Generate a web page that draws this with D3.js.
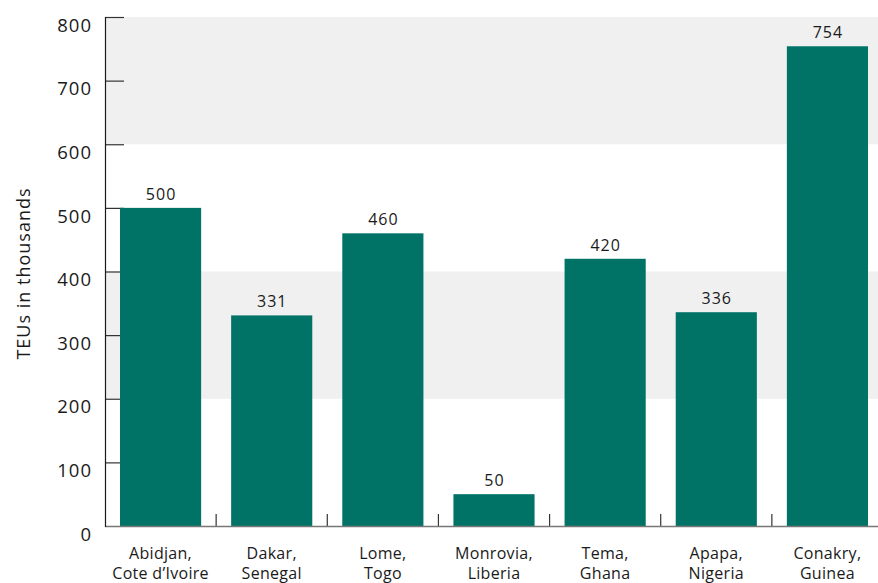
<!DOCTYPE html>
<html>
<head>
<meta charset="utf-8">
<script src="https://cdn.jsdelivr.net/npm/d3@7"></script>
<style>
  html, body { margin: 0; padding: 0; background: #fff; }
  svg { display: block; font-family: "Open Sans", "Noto Sans", sans-serif; }
</style>
</head>
<body>
<svg id="chart" width="878" height="583"></svg>
<script>
// Container throughput by port (TEUs, thousands)
const ports = [
  ["Abidjan,", "Cote d\u2019Ivoire"],
  ["Dakar,", "Senegal"],
  ["Lome,", "Togo"],
  ["Monrovia,", "Liberia"],
  ["Tema,", "Ghana"],
  ["Apapa,", "Nigeria"],
  ["Conakry,", "Guinea"]
];
const teus = [500, 331, 460, 50, 420, 336, 754];
const yTicks = [0, 100, 200, 300, 400, 500, 600, 700, 800];
const shadedBands = [[200, 400], [600, 800]];
const yTitle = "TEUs in thousands";

const svg = d3.select("#chart");
const plotLeft = 105, plotRight = 883, plotTop = 17, plotBottom = 526;

const x = d3.scaleBand()
  .domain(d3.range(ports.length))
  .range([plotLeft, plotRight])
  .paddingInner(0.27)
  .paddingOuter(0.135);

const y = d3.scaleLinear().domain([0, 800]).range([plotBottom, plotTop]);

// Alternating background bands
svg.append("g").selectAll("rect")
  .data(shadedBands)
  .join("rect")
  .attr("x", plotLeft)
  .attr("width", 878 - plotLeft)
  .attr("y", d => y(d[1]))
  .attr("height", d => y(d[0]) - y(d[1]))
  .attr("fill", "#eff0ef");

// Y axis: ticks point into the plot
const yAxis = d3.axisRight(y).tickValues(yTicks.filter(v => v > 0)).tickSize(19).tickFormat("");
const gy = svg.append("g").attr("transform", `translate(${plotLeft},0)`).call(yAxis);
gy.select(".domain").remove();
gy.selectAll(".tick line").attr("stroke", "#333").attr("stroke-width", 1.2);

// Y tick labels (set slightly below their ticks)
svg.append("g").selectAll("text")
  .data(yTicks)
  .join("text")
  .attr("x", 92)
  .attr("y", d => y(d) + 8)
  .attr("dy", "0.36em")
  .attr("text-anchor", "end")
  .attr("font-size", 18.5)
  .attr("letter-spacing", 1)
  .attr("fill", "#1a1a1a")
  .text(d => d);

// Category separators on the baseline
const sepAxis = d3.axisTop(x).tickSize(12).tickFormat("");
const gx = svg.append("g").attr("transform", `translate(0,${plotBottom})`).call(sepAxis);
gx.select(".domain").remove();
gx.selectAll(".tick").attr("transform", d => `translate(${x(d) + x.bandwidth() + x.step() * x.paddingInner() / 2},0)`);
gx.selectAll(".tick").filter(d => d === ports.length - 1).remove();
gx.selectAll(".tick line").attr("stroke", "#333").attr("stroke-width", 1.2);

// Bars
svg.append("g").selectAll("rect")
  .data(teus)
  .join("rect")
  .attr("x", (d, i) => x(i))
  .attr("width", x.bandwidth())
  .attr("y", d => y(d))
  .attr("height", d => y(0) - y(d))
  .attr("fill", "#017266");

// Value labels
svg.append("g").selectAll("text")
  .data(teus)
  .join("text")
  .attr("x", (d, i) => x(i) + x.bandwidth() / 2 + 0.5)
  .attr("y", d => y(d) - 8)
  .attr("text-anchor", "middle")
  .attr("font-size", 16)
  .attr("letter-spacing", 1)
  .attr("fill", "#1a1a1a")
  .text(d => d);

// Baseline and vertical axis line
svg.append("line")
  .attr("x1", plotLeft).attr("x2", 878)
  .attr("y1", plotBottom + 0.5).attr("y2", plotBottom + 0.5)
  .attr("stroke", "#777").attr("stroke-width", 1.3);
svg.append("line")
  .attr("x1", plotLeft + 0.5).attr("x2", plotLeft + 0.5)
  .attr("y1", plotTop).attr("y2", plotBottom + 1)
  .attr("stroke", "#1a1a1a").attr("stroke-width", 1.2);

// Category labels (two lines)
const cat = svg.append("g").selectAll("text")
  .data(ports)
  .join("text")
  .attr("text-anchor", "middle")
  .attr("font-size", 16)
  .attr("letter-spacing", 0.3)
  .attr("fill", "#1a1a1a");
cat.append("tspan").attr("y", 559).attr("x", (d, i) => x(i) + x.bandwidth() / 2).text(d => d[0]);
cat.append("tspan").attr("y", 579).attr("x", (d, i) => x(i) + x.bandwidth() / 2).text(d => d[1]);

// Y axis title
svg.append("text")
  .attr("transform", `translate(30,${273.5}) rotate(-90)`)
  .attr("text-anchor", "middle")
  .attr("font-size", 18)
  .attr("letter-spacing", 1)
  .attr("fill", "#1a1a1a")
  .text(yTitle);
</script>
</body>
</html>
